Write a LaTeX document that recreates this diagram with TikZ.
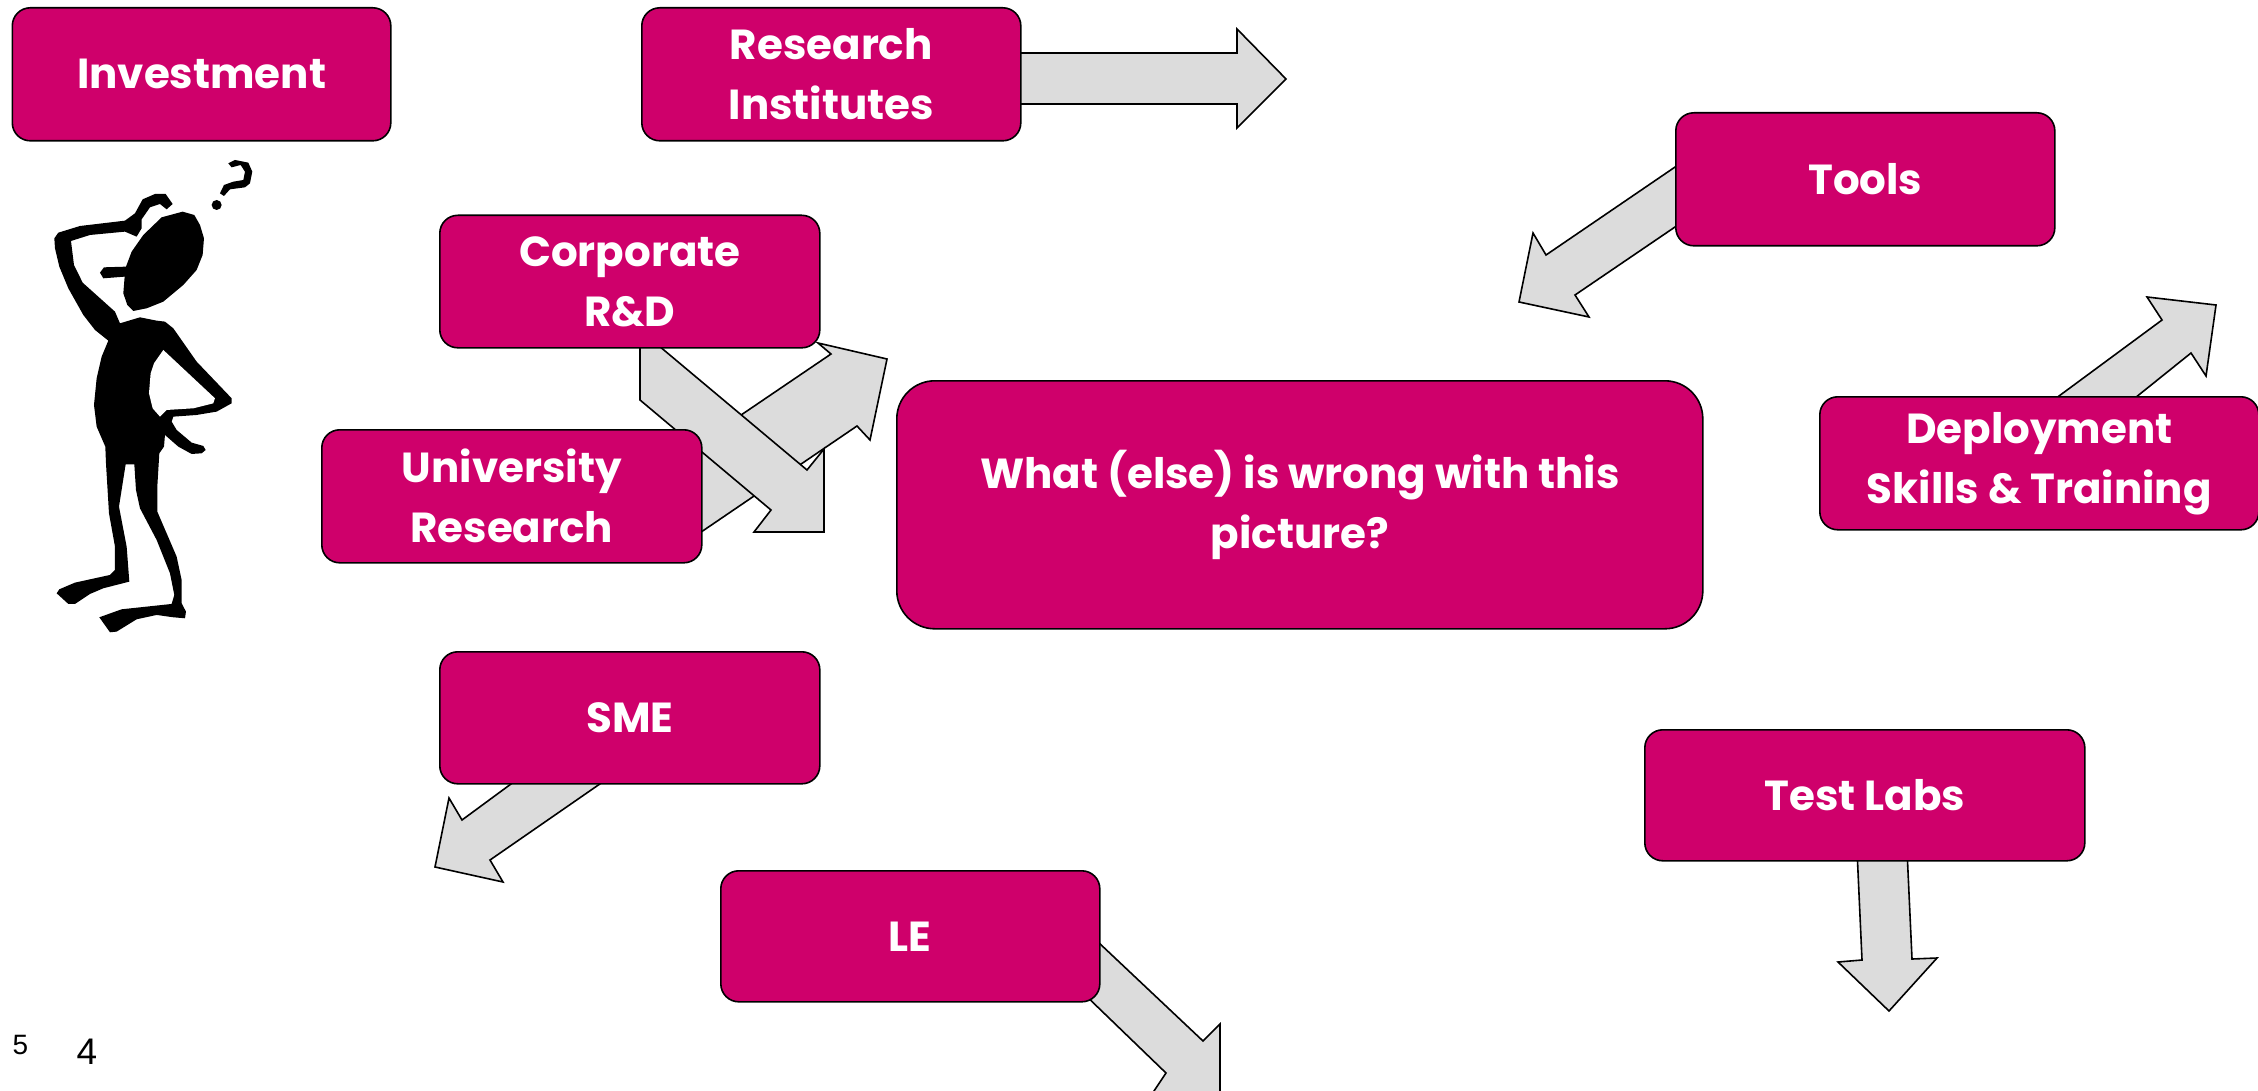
\documentclass[tikz,border=0pt]{standalone}
\usepackage{fontspec}
\setmainfont{Liberation Sans}
\newfontfamily\boxfont{Poppins}[Scale=1]
\definecolor{boxpink}{HTML}{CF006B}
\definecolor{arrowgrey}{HTML}{DCDCDC}
\tikzset{
  pinkbox/.style={draw=black,line width=1.6pt,fill=boxpink,rounded corners=18pt,text=white,
    font=\boxfont\fontsize{42}{60}\selectfont\bfseries,align=center,inner sep=0pt},
  bigbox/.style={pinkbox,rounded corners=38pt},
  blockarrow/.style={draw=black,line width=1.6pt,fill=arrowgrey,line join=miter},
  figure/.style={fill=black,draw=none}
}
\newcommand{\bx}[7][pinkbox]{%
  \node[#1,minimum width=#5 pt-#3 pt,minimum height=#6 pt-#4 pt,anchor=north west] (#2) at (#3,#4) {#7};}
\begin{document}
\begin{tikzpicture}[x=1pt,y=-1pt]
\useasboundingbox (0,0) rectangle (2258,1091);
\clip (0,0) rectangle (2258,1091);
% arrows
\draw[blockarrow] (1000,53) -- (1237,53) -- (1237,29) -- (1286,79) -- (1237,128) -- (1237,104) -- (1000,104) -- cycle;
\draw[blockarrow] (1700,150) -- (1546,255) -- (1533,233) -- (1519,302) -- (1589,317) -- (1575,295) -- (1700,210) -- cycle;
\draw[blockarrow] (660,470) -- (831,354) -- (818,343) -- (887,359) -- (870,440) -- (857,426) -- (660,560) -- cycle;
\draw[blockarrow] (640,330) -- (807,470) -- (824,449) -- (824,480) -- (824,480) -- (824,532) -- (754,532) -- (771,510) -- (640,400) -- cycle;
\draw[blockarrow] (2040,410) -- (2162,320) -- (2147,297) -- (2216,305) -- (2206,376) -- (2191,353) -- (2120,410) -- cycle;
\draw[blockarrow] (530,770) -- (462,820) -- (449,798) -- (435,867) -- (503,882) -- (490,860) -- (620,770) -- cycle;
\draw[blockarrow] (1080,925) -- (1203,1041) -- (1220,1024) -- (1220,1100) -- (1148,1100) -- (1166,1073) -- (1080,990) -- cycle;
\draw[blockarrow] (1857,850) -- (1862,960) -- (1838,962) -- (1889,1011) -- (1937,958) -- (1912,959) -- (1907,850) -- cycle;
% boxes
\bx{inv}{11.5}{7}{390}{140}{Investment}
\bx{ri}{641}{7}{1020}{140}{Research\\Institutes}
\bx{tools}{1675}{112}{2054}{245}{Tools}
\bx{crd}{439}{214.5}{819}{347}{Corporate\\R\&D}
\bx{uni}{321}{429}{701}{562}{University\\Research}
\bx[bigbox]{main}{896}{380}{1702}{628}{What (else) is wrong with this\\picture?}
\bx{dep}{1819}{396}{2258}{529}{Deployment\\Skills \& Training}
\bx{sme}{439}{651}{819}{783}{SME}
\bx{le}{720}{870}{1099}{1001}{LE}
\bx{test}{1644}{729}{2084}{860}{Test Labs}
% page numbers
\node[font=\fontsize{28}{30}\selectfont,inner sep=0pt] (pa) at (20.5,1045) {5};
\node[font=\fontsize{37}{40}\selectfont,inner sep=0pt] (pb) at (87,1052) {4};
% figure
\begin{scope}[shift={(0,130)},x=0.3333pt,y=-0.3333pt]
\fill[figure] (163,325) -- (175,308) -- (240,288) -- (375,272) -- (405,250) -- (428,208) -- (465,192) -- (497,192) -- (518,222) -- (500,238) -- (480,222) -- (450,232) -- (425,268) -- (425,295) -- (410,320) -- (375,305) -- (270,315) -- (213,333) -- (222,405) -- (248,458) -- (345,545) -- (360,580) -- (420,562) -- (470,572) -- (495,575) -- (520,595) -- (590,695) -- (695,805) -- (695,820) -- (650,845) -- (590,855) -- (520,860) -- (515,875) -- (530,900) -- (575,938) -- (610,948) -- (617,960) -- (605,970) -- (575,972) -- (535,950) -- (495,915) -- (492,950) -- (478,970) -- (472,1070) -- (472,1145) -- (530,1280) -- (545,1350) -- (545,1420) -- (558,1445) -- (555,1465) -- (520,1462) -- (470,1455) -- (410,1468) -- (350,1505) -- (330,1507) -- (298,1462) -- (365,1438) -- (515,1422) -- (523,1395) -- (510,1330) -- (470,1230) -- (420,1135) -- (408,1080) -- (403,1003) -- (377,1003) -- (357,1130) -- (380,1250) -- (388,1355) -- (310,1375) -- (270,1392) -- (225,1422) -- (205,1422) -- (170,1390) -- (178,1378) -- (225,1358) -- (330,1335) -- (345,1320) -- (345,1250) -- (327,1150) -- (318,1000) -- (316,950) -- (290,890) -- (282,825) -- (290,745) -- (305,680) -- (325,632) -- (285,600) -- (250,555) -- (205,475) -- (178,410) -- (165,355) -- cycle;
\fill[white] (490,660) -- (645,805) -- (640,820) -- (580,835) -- (500,840) -- (480,860) -- (458,835) -- (447,790) -- (452,730) -- (462,700) -- cycle;
\fill[figure] (300,428) -- (312,412) -- (378,410) -- (395,365) -- (430,315) -- (485,262) -- (548,245) -- (583,255) -- (600,285) -- (612,325) -- (608,375) -- (590,420) -- (550,465) -- (490,515) -- (440,535) -- (400,543) -- (382,525) -- (370,490) -- (374,440) -- (310,445) -- cycle;
\fill[figure] (660,190) -- (672,165) -- (700,155) -- (730,150) -- (735,125) -- (722,105) -- (695,112) -- (685,100) -- (705,90) -- (745,98) -- (757,125) -- (750,160) -- (735,172) -- (690,178) -- (672,198) -- cycle;
\fill[figure] (650,225) circle (15);
\end{scope}
\end{tikzpicture}
\end{document}
